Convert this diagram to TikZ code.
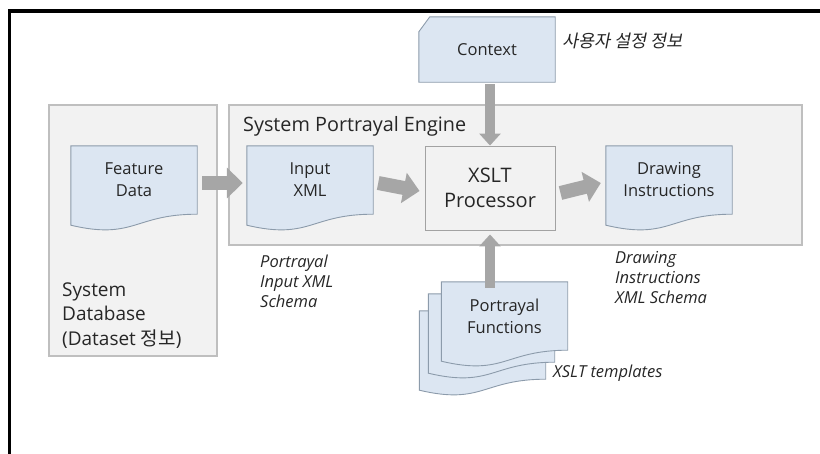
\documentclass[tikz,border=0pt]{standalone}
\usepackage{fontspec}
\setmainfont{Open Sans}
\newfontfamily\kr{Noto Sans CJK KR}
\newfontfamily\krit[FakeSlant=0.2]{Noto Sans CJK KR}
\usetikzlibrary{arrows.meta,calc}

\definecolor{panelfill}{HTML}{F2F2F2}
\definecolor{paneledge}{HTML}{BFBFBF}
\definecolor{docfill}{HTML}{DCE6F2}
\definecolor{docedge}{HTML}{8C9BAB}
\definecolor{arrowgray}{HTML}{A6A6A6}
\definecolor{ink}{HTML}{262626}

\pgfdeclarelayer{bg}
\pgfdeclarelayer{paper}
\pgfsetlayers{bg,paper,main}

% wavy "document" outline hung on a node's corners
\newcommand\docpath[1]{%
  \draw[docshape] (#1.north west) -- (#1.north east) -- (#1.south east)
    .. controls ([xshift=-63pt]#1.south east) and ([xshift=-63pt,yshift=-26pt]#1.south east)
    .. ([yshift=-11pt]#1.south west) -- cycle;}

\tikzset{
  panel/.style={draw=paneledge, fill=panelfill, line width=1.1pt},
  docshape/.style={draw=docedge, fill=docfill, line width=0.9pt},
  docbox/.style={minimum width=126pt, minimum height=68pt, inner sep=0pt,
    align=center, text=ink, font=\fontsize{16.5}{22}\selectfont},
  procbox/.style={draw=paneledge!85!black, fill=panelfill, line width=0.9pt,
    minimum width=130pt, minimum height=84pt, inner sep=0pt, align=center,
    text=ink, font=\fontsize{20}{25}\selectfont},
  note/.style={anchor=base west, inner sep=0pt, align=left, text=ink,
    font=\fontsize{16.5}{20}\selectfont\itshape},
  hbarrow/.style={draw=arrowgray, line width=14pt, -{Triangle[length=16pt,width=30pt]}},
  vbarrow/.style={draw=arrowgray, line width=10.5pt, -{Triangle[length=12pt,width=21pt]}},
}

\begin{document}
\begin{tikzpicture}[x=1pt,y=-1pt]
\useasboundingbox (0,0) rectangle (820,453);

% frame lines on the top and left
\draw[line width=3.4pt, line cap=rect] (9.5,453) -- (9.5,11) -- (820,11);

% containers
\begin{pgfonlayer}{bg}
  \draw[panel] (49,105) rectangle (217,356);
  \draw[panel] (229,105) rectangle (802,245);
\end{pgfonlayer}

\node[anchor=base west, inner sep=0pt, text=ink, font=\fontsize{19.8}{24}\selectfont]
  (eng) at (243,131) {System Portrayal Engine};
% multi-line nodes: the base anchor sits on the last line
\node[anchor=base west, inner sep=0pt, align=left, text=ink, font=\fontsize{19}{24.5}\selectfont]
  (sdb) at (62,345) {System\\Database\\(Dataset {\kr 정보})};

% document nodes
\node[docbox] (fd) at (134,180) {Feature\\Data};
\node[docbox] (ix) at (310,180) {Input\\XML};
\node[docbox] (di) at (669,180) {Drawing\\Instructions};

% stacked template pages
\node[docbox] (pf3) at (482.5,345) {};
\node[docbox] (pf2) at (491.5,328) {};
\node[docbox] (pf1) at (504.5,316) {Portrayal\\Functions};

\begin{pgfonlayer}{paper}
  \docpath{fd}
  \docpath{ix}
  \docpath{di}
  \docpath{pf3}
  \docpath{pf2}
  \docpath{pf1}
\end{pgfonlayer}

% processor
\node[procbox] (xslt) at (490,188) {XSLT\\Processor};

% context sheet with a clipped corner
\node[minimum width=136pt, minimum height=65pt, inner sep=0pt, text=ink,
  font=\fontsize{16.5}{22}\selectfont] (ctx) at (487,49.5) {Context};
\begin{pgfonlayer}{paper}
  \draw[docshape] ([xshift=11pt]ctx.north west) -- (ctx.north east) -- (ctx.south east)
    -- (ctx.south west) -- ([yshift=-15pt]ctx.north west) -- cycle;
\end{pgfonlayer}

% block arrows
\draw[hbarrow] ([xshift=5pt,yshift=-3pt]fd.east) -- ([xshift=-4pt,yshift=-3pt]ix.west);
\draw[hbarrow] ([xshift=5pt,yshift=-3pt]ix.east) -- ([xshift=-5pt,yshift=-3pt]xslt.west);
\draw[hbarrow] ([xshift=5pt,yshift=-5pt]xslt.east) -- ([xshift=-5pt,yshift=-3pt]di.west);
\draw[vbarrow] ([yshift=-2pt]xslt.north |- ctx.south) -- (xslt.north);
\draw[vbarrow] ([yshift=-6pt]xslt.south |- pf1.north) -- ([yshift=-4pt]xslt.south);

% annotations
\node[note] (n1) at (260,307) {Portrayal\\Input XML\\Schema};
\node[note] (n2) at (615,303) {Drawing\\Instructions\\XML Schema};
\node[note] (n3) at (553,377) {XSLT templates};
\node[anchor=base west, inner sep=0pt, text=ink, font=\fontsize{17.5}{20}\selectfont\krit]
  (n4) at (562,47) {사용자 설정 정보};
\end{tikzpicture}
\end{document}
